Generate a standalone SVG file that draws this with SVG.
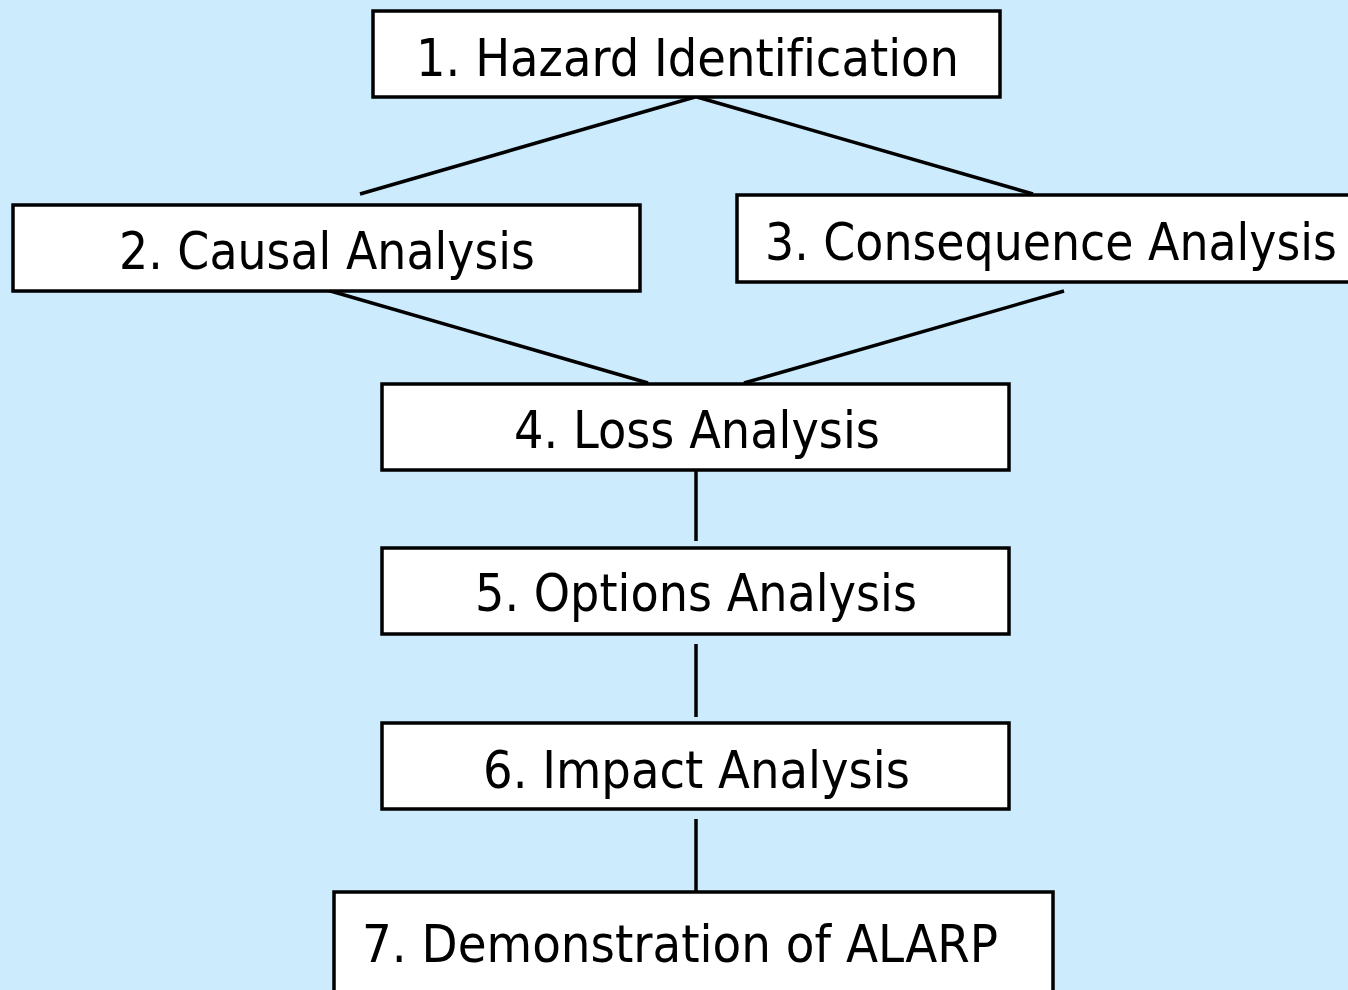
<svg xmlns="http://www.w3.org/2000/svg" width="1348" height="990" viewBox="0 0 1348 990">
  <style>
    .box { fill: #FFFFFF; stroke: #000000; stroke-width: 3.5; }
    .lbl { font-family: "DejaVu Sans", "Liberation Sans", sans-serif; font-size: 51px; fill: #000000; font-variant-ligatures: none; }
    .link { stroke: #000000; stroke-width: 3.5; fill: none; stroke-linecap: butt; }
  </style>
  <rect x="0" y="0" width="1348" height="990" fill="#CCEBFD"/>

  <g id="connectors">
    <line class="link" x1="695" y1="97" x2="360" y2="194"/>
    <line class="link" x1="697" y1="97" x2="1033" y2="194"/>
    <line class="link" x1="327" y1="290" x2="648" y2="383"/>
    <line class="link" x1="1064" y1="291" x2="744" y2="383"/>
    <line class="link" x1="696" y1="467" x2="696" y2="541"/>
    <line class="link" x1="696" y1="644" x2="696" y2="717"/>
    <line class="link" x1="696" y1="819" x2="696" y2="891"/>
  </g>

  <g id="node1">
    <rect class="box" x="373" y="11" width="627" height="86"/>
    <text class="lbl" x="416" y="76" textLength="543" lengthAdjust="spacingAndGlyphs">1. Hazard Identification</text>
  </g>

  <g id="node2">
    <rect class="box" x="13" y="205" width="627" height="86"/>
    <text class="lbl" x="119" y="269" textLength="416" lengthAdjust="spacingAndGlyphs">2. Causal Analysis</text>
  </g>

  <g id="node3">
    <rect class="box" x="737" y="195" width="640" height="87"/>
    <text class="lbl" x="765" y="260" textLength="572" lengthAdjust="spacingAndGlyphs">3. Consequence Analysis</text>
  </g>

  <g id="node4">
    <rect class="box" x="382" y="384" width="627" height="86"/>
    <text class="lbl" x="514" y="448" textLength="366" lengthAdjust="spacingAndGlyphs">4. Loss Analysis</text>
  </g>

  <g id="node5">
    <rect class="box" x="382" y="548" width="627" height="86"/>
    <text class="lbl" x="475" y="611" textLength="442" lengthAdjust="spacingAndGlyphs">5. Options Analysis</text>
  </g>

  <g id="node6">
    <rect class="box" x="382" y="723" width="627" height="86"/>
    <text class="lbl" x="483" y="788" textLength="427" lengthAdjust="spacingAndGlyphs">6. Impact Analysis</text>
  </g>

  <g id="node7">
    <rect class="box" x="334" y="892" width="719" height="120"/>
    <text class="lbl" x="362" y="962" textLength="636" lengthAdjust="spacingAndGlyphs">7. Demonstration of ALARP</text>
  </g>
</svg>
